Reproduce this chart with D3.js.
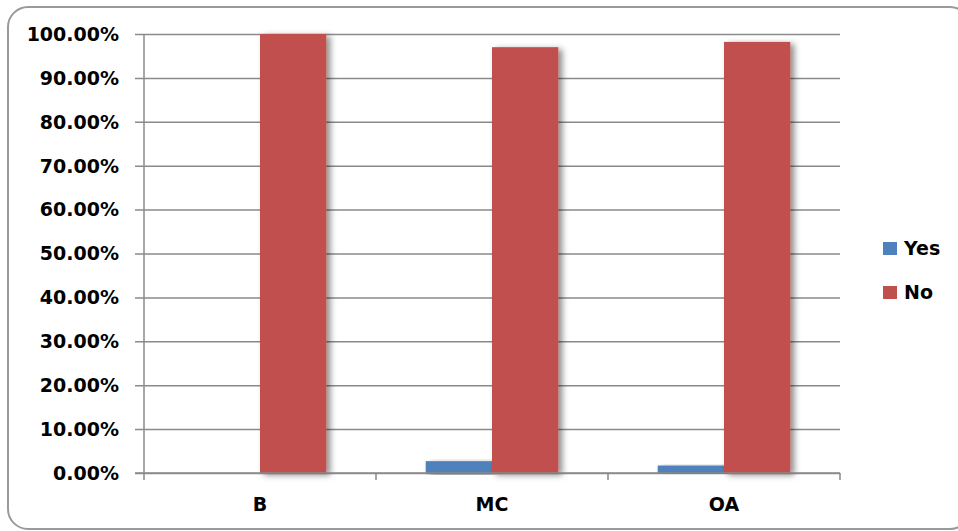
<!DOCTYPE html>
<html>
<head>
<meta charset="utf-8">
<script src="https://cdn.jsdelivr.net/npm/d3@7"></script>
<style>
  html, body { margin: 0; padding: 0; background: #fff; }
  svg { display: block; }
  text { font-family: "DejaVu Sans", Verdana, sans-serif; font-weight: bold; fill: #000; }
</style>
</head>
<body>
<svg id="chart" width="958" height="531"></svg>
<script>
// Share of answers per group
const categories = ["B", "MC", "OA"];
const seriesNames = ["Yes", "No"];
const yesValues = [0, 0.027, 0.017];
const noValues = [1.0, 0.970, 0.982];
const yTicks = [0, 0.1, 0.2, 0.3, 0.4, 0.5, 0.6, 0.7, 0.8, 0.9, 1.0];
const colors = ["#4F81BD", "#C0504D"];

const svg = d3.select("#chart");
const W = 958, H = 531;
const plot = { left: 144, right: 840, top: 34, bottom: 473 };

// Rounded outer frame
svg.append("rect")
  .attr("x", 8).attr("y", 7)
  .attr("width", 962).attr("height", 522)
  .attr("rx", 20).attr("ry", 20)
  .attr("fill", "#fff")
  .attr("stroke", "#9a9a9a")
  .attr("stroke-width", 2);

const defs = svg.append("defs");
const shadow = defs.append("filter").attr("id", "barShadow")
  .attr("x", "-10%").attr("y", "-10%").attr("width", "140%").attr("height", "120%");
shadow.append("feDropShadow")
  .attr("dx", 4).attr("dy", 2).attr("stdDeviation", 3)
  .attr("flood-color", "#000").attr("flood-opacity", 0.45);

const x0 = d3.scaleBand().domain(categories).range([plot.left, plot.right]).paddingInner(0).paddingOuter(0);
const y = d3.scaleLinear().domain([0, 1]).range([plot.bottom, plot.top]);

// Inner band: two bars with a 150% gap of one bar width split on each side
const barW = x0.bandwidth() / (2 + 1.5);
const x1 = d3.scaleBand().domain(seriesNames)
  .range([barW * 0.75, barW * 0.75 + barW * 2]).padding(0);

// Horizontal gridlines with tick stubs to the left
const yAxis = d3.axisLeft(y).tickValues(yTicks)
  .tickSize(-(plot.right - plot.left) - 9)
  .tickFormat(d => (d * 100).toFixed(2) + "%");
const gy = svg.append("g").attr("transform", `translate(${plot.right},0)`);
gy.call(d3.axisLeft(y).tickValues(yTicks).tickSize(plot.right - plot.left + 9).tickFormat(""));
gy.select(".domain").remove();
gy.selectAll(".tick line").attr("stroke", "#8a8a8a").attr("stroke-width", 1.5);

// Y tick labels
svg.append("g").selectAll("text").data(yTicks).join("text")
  .attr("x", 119)
  .attr("y", d => y(d))
  .attr("dy", "0.36em")
  .attr("text-anchor", "end")
  .style("font-size", "19px")
  .text(d => (d * 100).toFixed(2) + "%");

// Vertical axis line
svg.append("line")
  .attr("x1", plot.left).attr("x2", plot.left)
  .attr("y1", plot.top).attr("y2", plot.bottom)
  .attr("stroke", "#8a8a8a").attr("stroke-width", 1.5);

// Bars
const rows = categories.map((c, i) => ({ cat: c, vals: [yesValues[i], noValues[i]] }));
const groups = svg.append("g").selectAll("g").data(rows).join("g")
  .attr("transform", d => `translate(${x0(d.cat)},0)`);
groups.selectAll("rect")
  .data(d => d.vals.map((v, k) => ({ key: seriesNames[k], v, k })))
  .join("rect")
  .filter(d => d.v > 0)
  .attr("x", d => x1(d.key))
  .attr("width", x1.bandwidth())
  .attr("y", d => y(d.v))
  .attr("height", d => y(0) - y(d.v))
  .attr("fill", d => colors[d.k])
  .attr("filter", "url(#barShadow)");

// Category axis with tick marks at band edges
const gx = svg.append("g");
gx.append("line")
  .attr("x1", plot.left - 9).attr("x2", plot.right)
  .attr("y1", plot.bottom).attr("y2", plot.bottom)
  .attr("stroke", "#8a8a8a").attr("stroke-width", 1.5);
const edges = categories.map(c => x0(c)).concat([plot.right]);
gx.selectAll("line.edge").data(edges).join("line")
  .attr("class", "edge")
  .attr("x1", d => d).attr("x2", d => d)
  .attr("y1", plot.bottom).attr("y2", plot.bottom + 7)
  .attr("stroke", "#8a8a8a").attr("stroke-width", 1.5);
gx.selectAll("text").data(categories).join("text")
  .attr("x", d => x0(d) + x0.bandwidth() / 2)
  .attr("y", 511)
  .attr("text-anchor", "middle")
  .style("font-size", "19px")
  .text(d => d);

// Legend
const legend = svg.append("g").selectAll("g").data(seriesNames).join("g")
  .attr("transform", (d, i) => `translate(883,${242 + i * 44})`);
legend.append("rect")
  .attr("width", 14).attr("height", 13)
  .attr("fill", (d, i) => colors[i]);
legend.append("text")
  .attr("x", 21).attr("y", 6.5).attr("dy", "0.36em")
  .style("font-size", "19px")
  .text(d => d);
</script>
</body>
</html>
